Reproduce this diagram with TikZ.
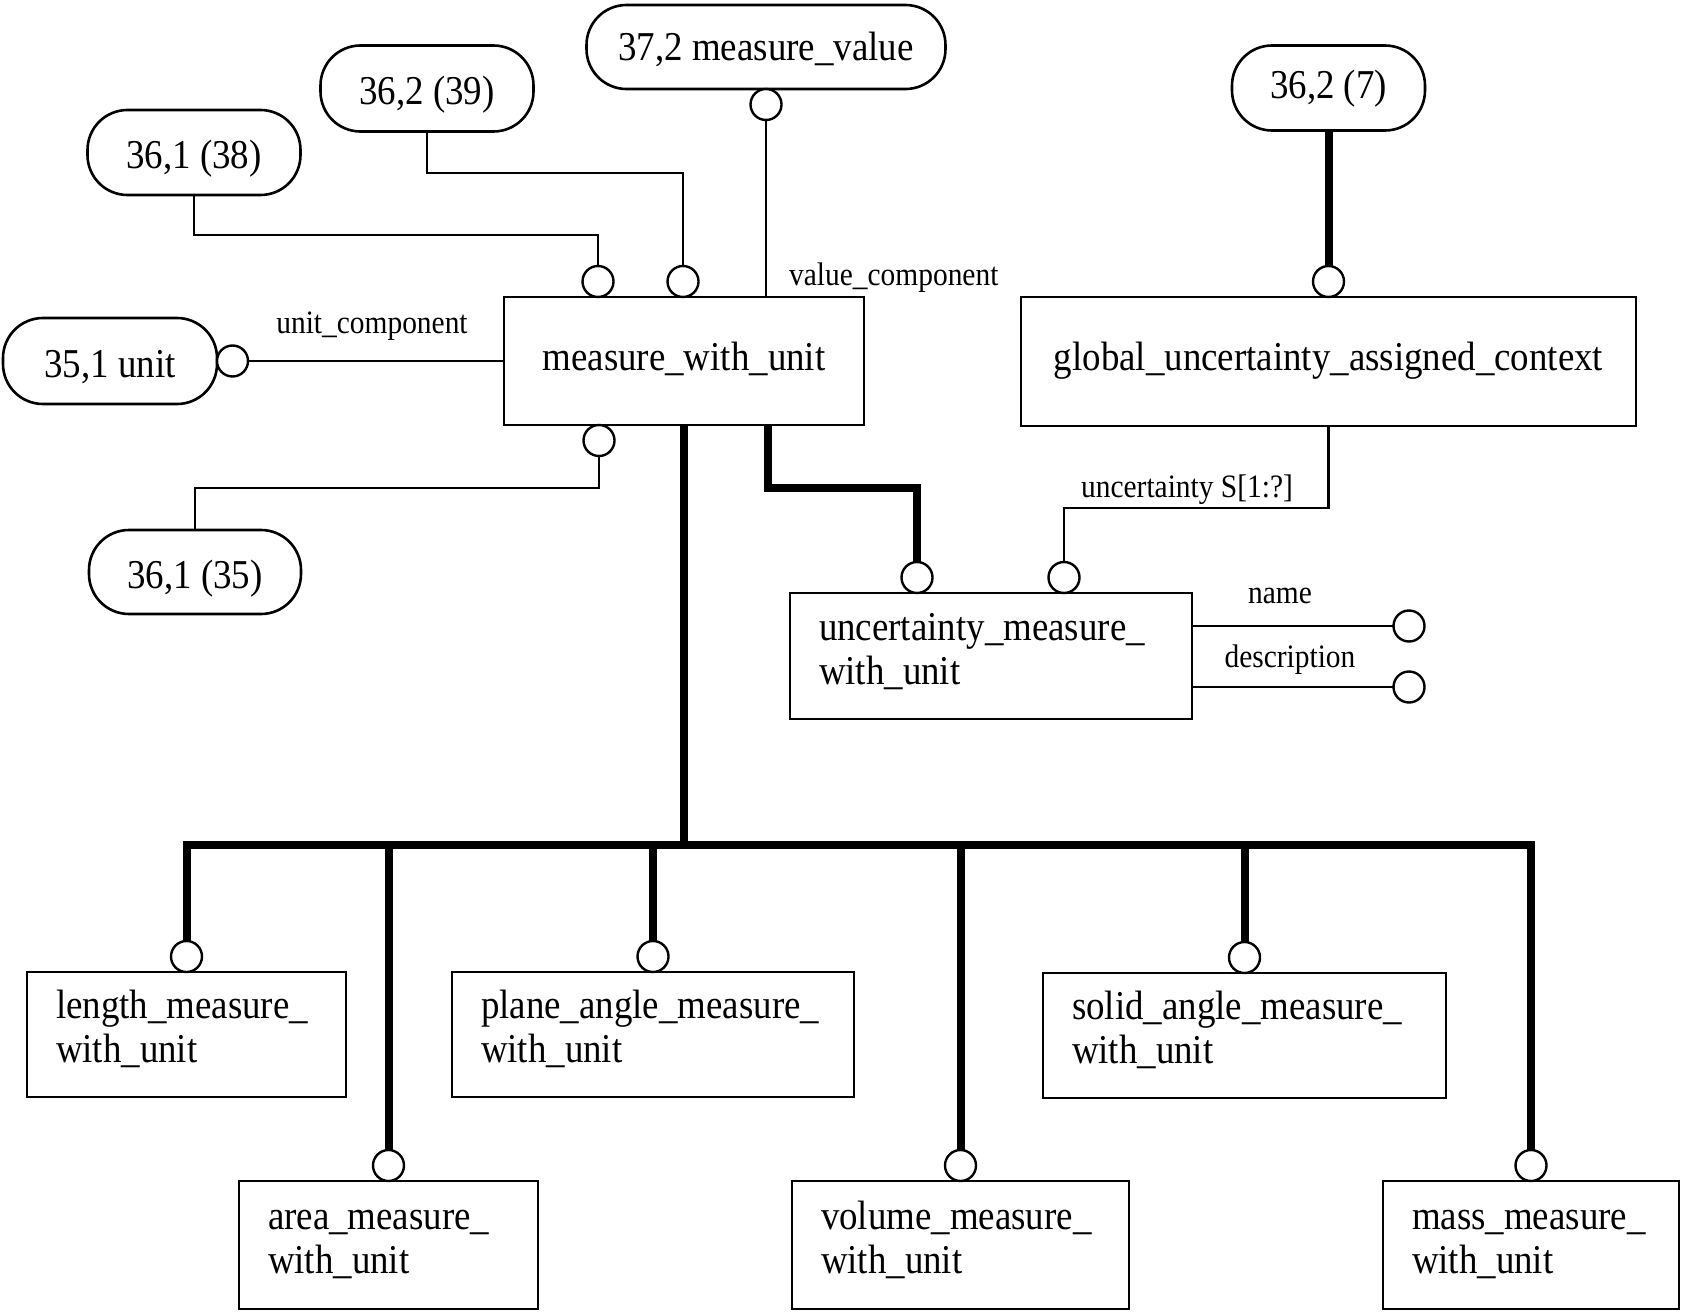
\documentclass[tikz,border=0pt]{standalone}
\usepackage{fontspec}
\setmainfont{Liberation Serif}[FakeStretch=0.9]
\newcommand\lowstrut{\rule[-21.5pt]{0pt}{21.5pt}}
\newcommand\highstrut{\rule{0pt}{34pt}}
\begin{document}
\begin{tikzpicture}[x=1pt,y=-1pt,
  big/.style={font=\fontsize{41}{44}\selectfont},
  small/.style={font=\fontsize{32.7}{36}\selectfont},
  ent/.style={draw, line width=2.6pt, rectangle, inner sep=0pt, outer sep=0pt, big},
  ent1/.style={ent, text height=28pt, text depth=10pt},
  ent2/.style={ent, align=left, inner xsep=29pt, inner ysep=0pt, text width=#1},
  refn/.style={draw, line width=2.6pt, rounded corners=40pt, inner sep=0pt, outer sep=0pt, big,
    text height=32pt, text depth=0pt},
  circ/.style={draw, circle, line width=2.4pt, minimum size=31pt, inner sep=0pt, outer sep=0pt, fill=white},
  thin/.style={line width=2.4pt},
  heavy/.style={line width=8pt, line join=miter},
  lab/.style={small, inner sep=0pt},
]
\useasboundingbox (0,0) rectangle (1684,1314);

% entities
\node[ent1, minimum width=360pt, minimum height=128pt] (mwu) at (684,361) {measure\_with\_unit};
\node[ent1, minimum width=615pt, minimum height=129pt] (guac) at (1328.5,361.5) {global\_uncertainty\_assigned\_context};
\node[ent2=344pt, minimum height=126pt] (umwu) at (991,656) {\highstrut uncertainty\_measure\_\\with\_unit\lowstrut};
\node[ent2=261pt, minimum height=125pt] (length) at (186.5,1034.5) {\highstrut length\_measure\_\\with\_unit\lowstrut};
\node[ent2=241pt, minimum height=128pt] (area) at (388.5,1245) {\highstrut area\_measure\_\\with\_unit\lowstrut};
\node[ent2=344pt, minimum height=125pt] (plane) at (653,1034.5) {\highstrut plane\_angle\_measure\_\\with\_unit\lowstrut};
\node[ent2=279pt, minimum height=128pt] (volume) at (960.5,1245) {\highstrut volume\_measure\_\\with\_unit\lowstrut};
\node[ent2=345pt, minimum height=125pt] (solid) at (1244.5,1035.5) {\highstrut solid\_angle\_measure\_\\with\_unit\lowstrut};
\node[ent2=238pt, minimum height=128pt] (mass) at (1531,1245) {\highstrut mass\_measure\_\\with\_unit\lowstrut};

% references
\node[refn, minimum width=359pt, minimum height=84pt, text height=26pt] (n372) at (766,47) {37,2 measure\_value};
\node[refn, minimum width=213pt, minimum height=86pt] (n362a) at (427,88.5) {36,2 (39)};
\node[refn, minimum width=213pt, minimum height=85pt] (n361a) at (194,152.5) {36,1 (38)};
\node[refn, minimum width=214pt, minimum height=86pt] (n351) at (110,361) {35,1 unit};
\node[refn, minimum width=212pt, minimum height=84pt] (n361b) at (195,572) {36,1 (35)};
\node[refn, minimum width=193pt, minimum height=85pt, text height=22pt] (n362b) at (1328.5,88) {36,2 (7)};

% circles
\node[circ, anchor=north] (cv) at (n372.south) {};
\node[circ, anchor=south] (cm1) at (598,297) {};
\node[circ, anchor=south] (cm2) at (683,297) {};
\node[circ, anchor=west] (cu) at (n351.east) {};
\node[circ, anchor=north] (cm3) at (599,425) {};
\node[circ, anchor=south] (cg) at (guac.north) {};
\node[circ, anchor=south] (cu1) at (917,593) {};
\node[circ, anchor=south] (cu2) at (1064,593) {};
\node[circ] (cn) at (1409,626) {};
\node[circ] (cd) at (1409,687) {};
\node[circ, anchor=south] (cl) at (length.north) {};
\node[circ, anchor=south] (ca) at (area.north) {};
\node[circ, anchor=south] (cp) at (plane.north) {};
\node[circ, anchor=south] (cvol) at (volume.north) {};
\node[circ, anchor=south] (cs) at (solid.north) {};
\node[circ, anchor=south] (cmass) at (mass.north) {};

% helper coordinates
\coordinate (y38) at (0,235);
\coordinate (y39) at (0,173);
\coordinate (y35) at (0,488);
\coordinate (ybar) at (0,845);
\coordinate (yum) at (768,488);
\coordinate (yunc) at (0,508);

% thin connectors
\draw[thin] (n361a.south) |- (y38 -| cm1.north) -- (cm1.north);
\draw[thin] (n362a.south) |- (y39 -| cm2.north) -- (cm2.north);
\draw[thin] (cv.south) -- (cv.south |- mwu.north);
\draw[thin] (cu.east) -- (mwu.west |- cu.east);
\draw[thin] (cm3.south) |- (y35 -| n361b.north) -- (n361b.north);
\draw[thin] (guac.south) -- (guac.south |- yunc) -| (cu2.north);
\draw[thin] (umwu.east |- cn.west) -- (cn.west);
\draw[thin] (umwu.east |- cd.west) -- (cd.west);

% heavy connectors
\draw[heavy] (n362b.south) -- (cg.north);
\draw[heavy] (mwu.south -| yum) -- (yum) -| (cu1.north);
\draw[heavy] (mwu.south) -- (mwu.south |- ybar);
\draw[heavy] (cl.north) -- (cl.north |- ybar) -- (cmass.north |- ybar) -- (cmass.north);
\draw[heavy] (ca.north) -- (ca.north |- ybar);
\draw[heavy] (cp.north) -- (cp.north |- ybar);
\draw[heavy] (cvol.north) -- (cvol.north |- ybar);
\draw[heavy] (cs.north) -- (cs.north |- ybar);

% labels
\node[lab, anchor=base] (lunit) at (372,333) {unit\_component};
\node[lab, anchor=base west] (lval) at (789,285) {value\_component};
\node[lab, anchor=base] (lunc) at (1187,497) {uncertainty S[1:?]};
\node[lab, anchor=base] (lname) at (1280,603) {name};
\node[lab, anchor=base] (ldesc) at (1290,667) {description};
\end{tikzpicture}
\end{document}
